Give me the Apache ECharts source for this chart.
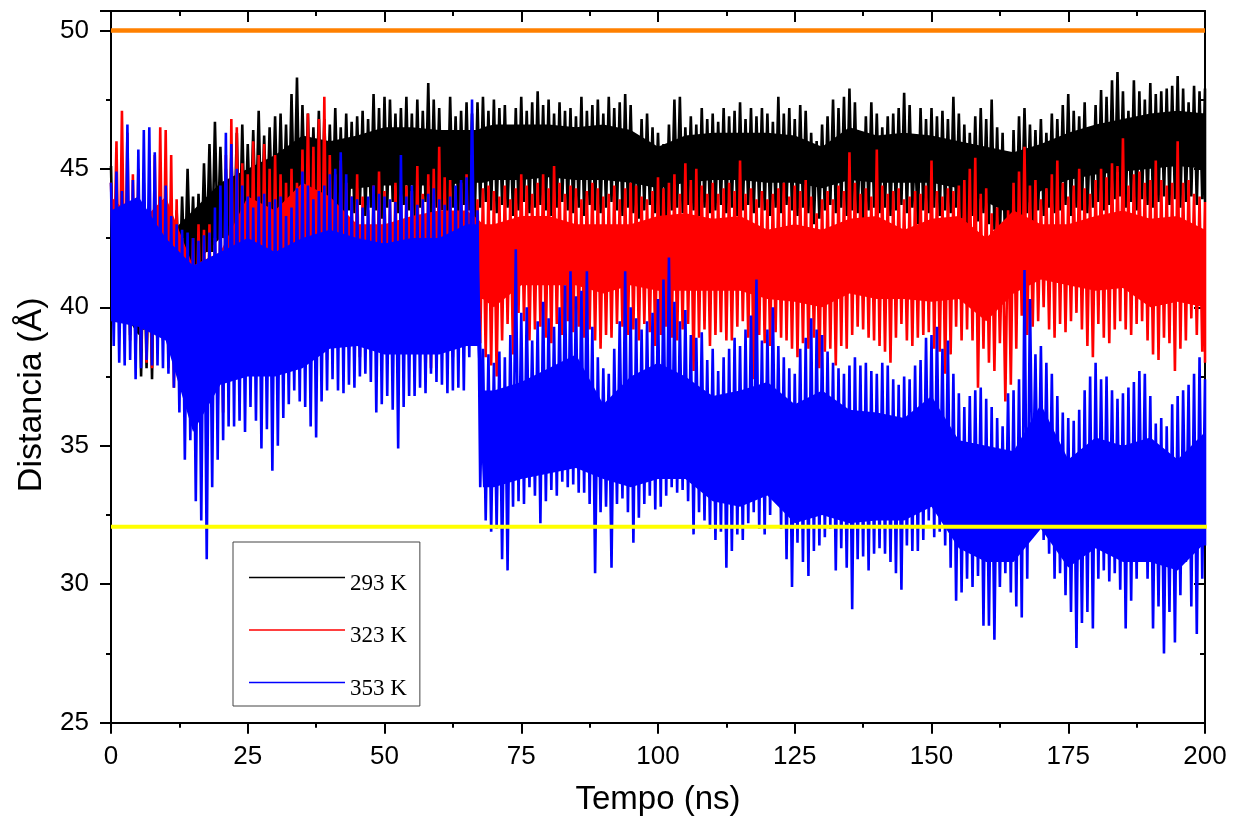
<!DOCTYPE html>
<html><head><meta charset="utf-8">
<script src="https://cdn.jsdelivr.net/npm/echarts@6/dist/echarts.min.js"></script>
<style>html,body{margin:0;padding:0;background:#fff}#c{width:1242px;height:820px}</style>
</head><body><div id="c"></div>
<script>
// One envelope pair per ns: upper value at t, lower value at t+0.5, t = 0..200
const seriesNames = ['293 K', '323 K', '353 K'];
const xTickValues = [0, 25, 50, 75, 100, 125, 150, 175, 200];
const yTickValues = [25, 30, 35, 40, 45, 50];

// 293 K (black) spike envelope
const hi293 = [
45.1,44.2,43.8,44.0,43.5,43.0,43.2,42.8,43.4,43.8,
43.2,43.9,43.5,44.0,45.0,44.0,44.1,45.2,45.9,46.7,
45.8,45.0,45.5,46.3,46.6,45.9,46.4,47.1,46.2,46.5,
46.9,47.0,46.6,47.7,48.3,47.3,47.0,46.5,47.1,46.8,
46.6,47.2,46.5,47.0,46.7,46.9,47.1,46.8,47.7,47.2,
47.6,47.5,47.0,47.2,47.6,47.0,47.5,47.1,48.1,47.5,
47.2,46.1,47.6,46.9,47.1,47.4,47.0,47.4,47.6,47.1,
47.5,47.2,47.3,46.5,47.2,47.6,47.1,47.4,47.8,47.3,
47.5,47.0,47.4,47.1,47.2,46.9,47.6,47.1,47.3,47.5,
47.0,47.6,47.2,47.4,47.7,47.3,46.2,46.8,47.0,46.5,
46.3,45.9,46.6,47.5,47.6,46.5,46.9,46.6,47.2,46.8,
47.0,46.7,47.2,46.9,47.1,47.4,46.8,47.2,46.9,47.2,
47.0,46.7,47.6,47.0,47.2,46.8,47.3,47.1,46.3,46.0,
46.6,46.9,47.5,47.2,47.6,47.9,47.4,46.2,46.9,47.4,
47.0,46.5,46.9,47.0,47.2,47.75,47.3,45.7,47.2,46.8,
47.2,46.9,47.1,46.8,47.6,47.0,46.6,46.3,46.9,47.2,
46.8,47.5,46.5,46.3,45.4,46.4,46.9,47.2,46.6,46.4,
46.8,46.3,47.0,46.8,47.3,47.7,47.1,46.9,47.4,46.5,
47.3,47.85,47.6,48.2,48.5,47.8,47.1,48.2,47.8,47.5,
48.1,47.7,47.8,47.9,48.0,48.35,47.9,47.4,48.0,47.8,
47.9];
const lo293 = [
40.5,40.0,39.5,39.0,38.5,37.5,37.8,37.4,38.5,39.0,
39.5,40.0,40.5,41.0,41.5,41.0,41.5,42.0,42.0,42.5,
42.5,42.0,42.5,42.0,42.5,42.8,43.0,42.7,43.0,43.2,
43.0,43.4,43.1,43.5,43.3,43.6,43.2,43.5,43.0,43.4,
43.3,43.6,43.2,43.5,43.4,43.7,43.3,43.6,43.5,43.2,
43.6,43.8,43.4,43.7,43.5,43.3,43.6,43.8,43.4,43.6,
43.5,43.1,43.6,43.4,43.7,43.5,43.2,43.6,43.8,43.5,
43.4,43.7,43.6,43.3,43.5,43.8,43.4,43.6,43.7,43.5,
43.3,43.6,43.8,43.5,43.4,43.6,43.3,43.7,43.5,43.4,
43.6,43.8,43.5,43.3,43.6,43.4,43.2,43.5,43.7,43.4,
43.3,43.0,43.5,43.6,43.4,43.7,43.5,43.3,43.6,43.4,
43.5,43.7,43.4,43.6,43.3,43.5,43.7,43.4,43.6,43.5,
43.3,43.6,43.4,43.7,43.5,43.3,43.6,43.4,43.0,43.2,
43.5,43.7,43.4,43.6,43.3,43.5,43.4,43.1,43.5,43.6,
43.4,43.6,43.3,43.5,43.7,43.4,43.6,43.0,43.5,43.4,
43.6,43.3,43.5,43.4,43.6,43.2,43.0,43.3,43.1,43.4,
43.0,42.8,42.5,41.8,41.5,42.6,43.2,43.4,43.1,43.5,
43.3,43.6,43.4,43.5,43.7,43.3,43.6,43.5,43.4,43.6,
43.8,43.5,43.7,43.9,44.0,43.6,43.8,43.5,43.9,43.7,
43.6,43.8,44.0,43.7,43.9,43.6,43.8,44.0,43.7,43.9,
43.8];

// 323 K (red) spike envelope
const hi323 = [
44.5,46.0,47.1,46.3,44.8,45.0,44.5,44.0,45.5,46.5,
46.4,45.5,43.9,42.5,42.0,42.5,43.0,42.8,43.0,42.5,
43.5,45.5,46.8,46.5,45.2,44.8,46.0,45.5,45.9,45.0,
45.5,44.8,44.5,45.0,44.5,45.7,47.0,45.8,46.8,47.6,
45.5,44.8,45.3,44.5,44.0,44.8,44.0,43.5,44.4,44.9,
44.2,43.8,44.5,44.0,44.4,44.2,45.1,44.1,44.8,45.0,
45.8,44.7,44.6,44.2,44.5,44.8,45.5,43.9,44.3,44.4,
44.2,44.0,44.4,43.9,44.3,44.8,44.4,44.1,44.5,44.8,
44.3,45.1,44.5,44.1,44.4,44.3,43.9,44.2,44.5,44.3,
44.0,44.1,44.4,43.9,44.3,44.5,44.4,44.0,43.9,44.2,
44.7,44.3,44.5,44.8,44.1,45.2,44.6,45.0,44.4,44.1,
44.5,44.1,44.3,44.5,44.2,45.3,44.1,44.3,43.9,44.2,
43.9,44.1,44.3,44.5,44.0,44.4,44.2,44.6,44.0,43.4,
43.9,44.2,43.9,44.4,44.2,45.6,44.5,44.1,44.3,44.0,
45.7,44.4,44.1,44.2,44.3,43.9,44.0,44.2,44.1,44.4,
45.3,44.2,44.0,44.3,44.2,44.4,44.6,45.0,45.4,44.1,
44.3,43.4,43.6,42.6,43.5,44.5,44.9,45.8,44.4,44.6,
43.9,44.3,44.8,45.3,44.5,44.0,44.4,45.0,44.3,44.1,
44.6,45.0,44.7,45.2,45.1,46.1,44.4,44.8,44.9,44.5,
44.6,45.3,44.6,44.4,44.5,46.0,44.5,44.6,44.1,44.0,
43.8];
const lo323 = [
41.0,39.5,40.0,38.8,39.0,38.5,38.0,37.8,38.5,38.8,
37.8,37.1,38.0,38.5,37.5,37.8,38.0,37.2,36.8,36.3,
36.2,37.0,37.5,38.0,37.5,38.5,38.0,37.8,38.5,38.0,
38.5,38.2,38.8,38.4,38.0,38.5,38.8,38.3,38.6,38.1,
38.5,38.8,38.0,38.5,38.8,38.2,38.6,38.9,38.4,38.8,
38.5,38.6,38.9,38.1,38.5,38.7,38.3,37.4,37.8,38.5,
38.9,38.6,38.2,38.3,38.8,39.5,39.8,38.7,38.2,37.9,
37.5,38.8,39.4,38.3,39.8,39.5,38.8,39.2,39.3,38.9,
38.7,39.4,39.0,39.5,39.1,39.3,38.9,39.2,38.8,38.5,
39.0,38.9,39.4,39.3,39.0,39.2,38.8,39.4,39.1,38.6,
39.0,39.3,38.9,38.8,39.2,39.4,37.7,38.9,39.2,38.6,
39.0,39.1,38.8,38.8,39.3,39.5,38.9,37.4,39.0,38.7,
38.6,39.1,38.9,38.8,38.5,38.2,38.7,38.5,38.9,37.8,
38.4,38.5,37.9,38.6,38.5,39.0,39.3,39.2,38.9,38.8,
38.6,38.4,38.0,38.9,39.4,38.8,38.6,38.9,39.0,39.1,
38.5,38.4,37.6,38.3,39.3,38.8,39.2,38.8,37.1,38.5,
38.0,37.7,38.7,36.6,37.2,38.5,39.7,39.0,39.3,39.5,
40.0,39.2,38.9,39.4,39.1,39.5,39.8,39.2,38.6,38.2,
39.4,38.9,38.7,39.2,39.5,39.2,39.0,39.4,39.5,38.8,
38.3,38.1,38.9,38.7,37.7,38.5,38.8,39.6,39.0,38.4,
38.0];

// 353 K (blue) spike envelope
const hi353 = [
44.5,44.9,44.2,46.6,44.6,45.7,46.4,46.5,45.6,44.0,
44.4,43.3,43.0,42.8,42.7,42.5,42.4,42.6,42.7,43.6,
44.4,46.3,45.9,45.0,44.4,44.0,43.6,44.0,44.1,43.8,
43.9,44.0,43.3,43.6,44.3,44.9,44.4,43.9,44.2,44.4,
44.8,45.0,45.6,44.8,44.0,43.9,43.6,44.0,44.4,44.1,
44.0,43.9,43.8,45.5,44.0,44.4,43.7,43.9,44.1,44.3,
43.9,43.7,44.0,44.4,44.6,44.7,47.5,43.5,38.5,38.3,
38.0,38.4,38.2,39.0,42.1,39.8,40.0,38.8,39.5,40.2,
39.6,39.3,40.0,40.8,41.3,40.4,40.6,41.3,39.3,38.2,
37.8,37.6,38.5,39.5,41.3,40.0,39.6,39.2,39.5,39.8,
40.3,41.0,41.8,40.2,39.5,39.9,39.0,38.9,39.1,38.1,
38.5,37.7,38.2,38.5,38.9,38.6,39.2,39.7,41.0,38.8,
39.2,40.0,38.6,38.2,37.8,37.6,38.5,38.9,39.6,39.2,
39.0,38.4,38.0,37.8,37.6,37.9,38.2,37.9,38.0,37.7,
37.6,38.0,37.9,37.4,37.2,37.5,37.4,37.9,38.1,38.9,
39.0,39.3,38.5,38.8,37.6,36.9,36.4,36.8,37.0,37.1,
36.7,36.4,36.0,35.7,36.9,37.0,37.4,41.35,40.3,38.3,
38.6,38.0,37.6,36.8,36.2,36.0,35.9,36.3,37.0,37.5,
38.0,37.4,37.5,37.0,36.7,36.9,37.1,37.3,37.7,37.6,
36.8,35.8,36.0,35.7,36.5,36.8,37.0,37.2,37.6,38.2,
37.4];
const lo353 = [
38.6,38.0,37.9,38.1,37.4,37.8,38.1,37.9,37.9,37.8,
37.6,37.1,36.2,34.5,35.2,33.0,32.3,30.9,33.5,34.5,
35.2,35.7,35.7,35.9,35.5,36.4,35.9,34.9,35.6,34.1,
35.0,36.0,36.5,37.0,36.6,36.4,35.7,35.3,36.6,37.0,
37.4,37.0,36.9,37.2,37.1,37.5,37.6,37.3,36.2,36.5,
36.8,36.3,34.9,36.4,36.8,36.8,37.1,36.9,37.6,37.3,
37.2,36.9,37.0,37.1,37.0,38.2,39.0,33.5,32.3,31.9,
32.0,30.9,30.5,32.8,33.0,32.9,33.5,33.2,32.2,33.0,
33.4,33.2,33.7,33.5,33.6,33.3,33.3,32.9,30.4,32.6,
32.8,30.6,32.9,33.1,32.6,31.5,32.4,32.9,33.2,32.7,
32.8,33.2,33.5,33.3,33.4,33.0,31.8,32.6,32.3,32.0,
31.6,31.9,30.6,31.2,31.8,31.6,32.2,32.6,32.0,31.8,
32.5,33.0,32.0,30.9,29.9,31.5,30.8,30.3,31.2,31.4,
31.7,32.0,30.5,31.3,30.6,29.1,30.9,31.0,30.5,31.1,
31.3,31.1,30.8,30.4,29.8,31.4,31.2,31.2,31.6,32.3,
31.7,31.9,31.4,30.6,29.4,29.7,30.2,29.9,30.3,28.5,
28.5,28.0,29.9,30.4,29.7,29.2,28.8,30.2,33.0,32.2,
31.6,31.1,30.2,30.4,29.6,29.0,27.7,28.6,29.0,28.4,
30.2,30.5,30.1,30.4,29.8,28.4,29.4,30.2,30.8,30.2,
28.4,29.2,27.5,29.0,27.9,29.6,30.8,29.2,28.2,30.2,
31.4];

// Solid core band of each trace (where the trace is dense), read at these times
const coreT = [0,5,10,15,20,25,30,35,40,45,50,55,60,65,67,68,70,75,80,85,90,95,100,
  105,110,115,120,125,130,135,140,145,150,155,160,165,170,175,180,185,190,195,200];
const core293Top = [43.5,42.5,42.5,43.5,44.5,45.0,45.5,46.2,46.0,46.2,46.5,46.5,46.4,46.4,46.4,46.5,46.6,46.6,46.6,46.5,46.6,46.4,45.8,
  46.2,46.3,46.3,46.3,46.2,45.8,46.5,46.2,46.3,46.2,46.0,45.8,45.6,45.9,46.3,46.6,46.8,47.0,47.1,47.0];
const core293Bot = [40.5,39.0,40.0,41.5,42.5,43.0,43.5,44.0,44.2,44.3,44.4,44.4,44.4,44.5,44.5,44.5,44.6,44.6,44.7,44.6,44.6,44.5,44.3,
  44.5,44.6,44.6,44.5,44.5,44.3,44.6,44.5,44.5,44.5,44.3,43.8,43.3,44.2,44.6,44.8,44.9,45.0,45.1,45.0];
const core323Top = [44.0,43.0,44.0,41.5,42.0,44.0,43.5,44.5,44.0,43.0,43.0,43.3,43.5,43.5,43.2,43.0,43.0,43.3,43.3,43.0,43.0,43.0,43.3,
  43.4,43.2,43.3,42.8,43.0,42.8,43.2,43.3,42.8,43.2,43.3,42.5,43.5,43.0,43.0,43.3,43.5,43.2,43.3,42.8];
const core323Bot = [40.0,39.5,39.5,39.0,39.5,40.0,40.0,40.0,40.0,40.0,40.0,39.8,40.0,40.5,40.3,40.3,40.0,40.8,40.8,40.8,40.5,40.8,40.6,
  40.6,40.6,40.6,40.3,40.2,40.0,40.5,40.3,40.3,40.2,40.3,39.5,40.5,41.0,40.8,40.6,40.7,40.0,40.2,40.0];
const core353Top = [43.5,44.0,42.5,41.5,42.0,42.5,42.0,42.5,42.8,42.5,42.3,42.5,42.5,43.0,43.0,37.0,37.0,37.3,37.8,38.3,36.5,37.5,38.0,
  37.5,36.8,37.0,37.3,36.5,37.0,36.3,36.2,36.0,36.8,35.2,35.0,34.8,36.5,34.5,35.3,35.0,35.3,34.5,35.5];
const core353Bot = [39.5,39.3,38.8,35.5,37.2,37.5,37.5,37.8,38.5,38.6,38.3,38.3,38.3,38.6,38.6,33.5,33.5,33.8,34.0,34.2,33.8,33.5,33.8,
  33.8,33.0,32.8,33.2,32.2,32.5,32.2,32.3,32.3,32.8,31.3,30.8,30.8,32.0,30.6,31.3,30.8,30.8,30.5,31.5];

// Reference lines
const orangeLevel = 50;
const orangeSpan = [0, 200];
const yellowLevel = 32.08;
const yellowSpan = [0, 201.1];

function zigzag(hi, lo) {
  const d = [];
  const last = hi.length - 1;
  for (let i = 0; i < hi.length; i++) {
    d.push([i, hi[i]]);
    d.push([Math.min(i + 0.5, last), lo[i]]);
  }
  return d;
}
function band(top, bot) {
  return coreT.map((t, i) => [t, top[i], bot[i]]);
}

const FONT = 'Liberation Sans, Arial, sans-serif';
const SERIF = 'Liberation Serif, Times New Roman, serif';
const chart = echarts.init(document.getElementById('c'), null, {renderer: 'canvas'});

function xAx(pos) {
  const bottom = pos === 'bottom';
  return {
    type: 'value', position: pos, min: 0, max: 200, interval: 25,
    axisLine: {show: true, onZero: false, lineStyle: {color: '#000', width: 2}},
    axisTick: {show: true, inside: !bottom, length: 11, lineStyle: {color: '#000', width: 2}},
    minorTick: {show: true, splitNumber: 2, length: 5, lineStyle: {color: '#000', width: 2}},
    splitLine: {show: false}, minorSplitLine: {show: false},
    axisLabel: {show: bottom, color: '#000', fontSize: 26, fontFamily: FONT, margin: 21,
      formatter: v => (xTickValues.indexOf(v) >= 0 ? String(v) : '')},
    name: bottom ? 'Tempo (ns)' : '', nameLocation: 'middle', nameGap: 61,
    nameTextStyle: {color: '#000', fontSize: 33, fontFamily: FONT}
  };
}
function yAx(pos) {
  const left = pos === 'left';
  return {
    type: 'value', position: pos, min: 25, max: 50.7, interval: 5,
    axisLine: {show: true, onZero: false, lineStyle: {color: '#000', width: 2}},
    axisTick: {show: true, inside: !left, length: 11, lineStyle: {color: '#000', width: 2}},
    minorTick: {show: true, splitNumber: 2, length: 5, lineStyle: {color: '#000', width: 2}},
    splitLine: {show: false}, minorSplitLine: {show: false},
    axisLabel: {show: left, color: '#000', fontSize: 26, fontFamily: FONT, margin: 22,
      formatter: v => (yTickValues.indexOf(v) >= 0 ? String(v) : '')},
    name: left ? 'Distancia (Å)' : '', nameLocation: 'middle', nameRotate: 90, nameGap: 62,
    nameTextStyle: {color: '#000', fontSize: 34, fontFamily: FONT, padding: [0, 56, 0, 0]}
  };
}

const colors = ['#000000', '#FF0000', '#0000FF'];
const spikes = [zigzag(hi293, lo293), zigzag(hi323, lo323), zigzag(hi353, lo353)];
const cores = [band(core293Top, core293Bot), band(core323Top, core323Bot), band(core353Top, core353Bot)];

const series = [];
seriesNames.forEach((n, k) => {
  series.push({
    type: 'custom', name: n + ' core', data: cores[k], xAxisIndex: 0, yAxisIndex: 0,
    silent: true, clip: true, z: 2 + 2 * k,
    encode: {x: 0, y: [1, 2]},
    renderItem: (params, api) => {
      if (params.dataIndexInside !== 0) return null;
      const m = params.dataInsideLength;
      const pts = [];
      for (let j = 0; j < m; j++) pts.push(api.coord([api.value(0, j), api.value(1, j)]));
      for (let j = m - 1; j >= 0; j--) pts.push(api.coord([api.value(0, j), api.value(2, j)]));
      return {type: 'polygon', shape: {points: pts}, style: {fill: colors[k]}};
    }
  });
  series.push({
    name: n, type: 'line', data: spikes[k], xAxisIndex: 0, yAxisIndex: 0,
    symbol: 'none', showSymbol: false, silent: true, z: 3 + 2 * k,
    lineStyle: {color: colors[k], width: 2.6}, itemStyle: {color: colors[k]}
  });
});
series.push({
  name: 'ref50', type: 'line', symbol: 'none', silent: true, z: 10,
  data: orangeSpan.map(x => [x, orangeLevel]),
  lineStyle: {color: '#FF8000', width: 4.5}
});
series.push({
  name: 'ref32', type: 'line', symbol: 'none', silent: true, z: 10, clip: false,
  data: yellowSpan.map(x => [x, yellowLevel]),
  lineStyle: {color: '#FFFF00', width: 4}
});

chart.setOption({
  animation: false,
  backgroundColor: '#fff',
  grid: {left: 111, right: 37, top: 11, bottom: 97.3, containLabel: false, outerBoundsMode: 'none'},
  xAxis: [xAx('bottom'), xAx('top')],
  yAxis: [yAx('left'), yAx('right')],
  legend: {
    data: seriesNames, orient: 'vertical', left: 233, top: 542,
    icon: 'rect', itemWidth: 96, itemHeight: 1.5, itemGap: 29.5,
    padding: [30, 13, 6, 16], borderColor: '#444', borderWidth: 1,
    backgroundColor: '#fff', selectedMode: false,
    itemStyle: {borderWidth: 0},
    formatter: '{t|{name}}',
    textStyle: {fontFamily: SERIF, fontSize: 23, color: '#000',
      rich: {t: {fontFamily: SERIF, fontSize: 23, color: '#000', padding: [12, 0, 0, 0]}}}
  },
  series: series
});
</script>
</body></html>
